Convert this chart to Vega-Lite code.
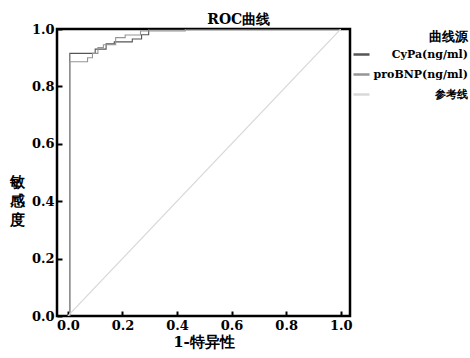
{
  "$schema": "https://vega.github.io/schema/vega-lite/v6.json",
  "autosize": "none",
  "width": 293,
  "height": 287,
  "padding": {"left": 57, "top": 29, "right": 120, "bottom": 42},
  "config": {
    "font": "DejaVu Serif",
    "view": {"stroke": "#000", "strokeWidth": 2.5},
    "axis": {"grid": false, "domain": false, "labelFont": "DejaVu Serif", "titleFont": "DejaVu Serif", "labelFontWeight": "bold", "titleFontWeight": "bold", "labelFontSize": 13, "titleFontSize": 15, "labelColor": "#000", "titleColor": "#000", "tickColor": "#000", "tickWidth": 2},
    "legend": {"labelFont": "DejaVu Serif", "titleFont": "DejaVu Serif"}
  },
  "title": {"text": "ROC曲线", "font": "DejaVu Serif", "fontSize": 14, "fontWeight": "bold", "color": "#000", "anchor": "middle", "frame": "bounds", "offset": -4},
  "data": {"values": [
    {"s": "CyPa(ng/ml)", "o": 1, "x": 0, "y": 0},
    {"s": "CyPa(ng/ml)", "o": 2, "x": 0.007, "y": 0},
    {"s": "CyPa(ng/ml)", "o": 3, "x": 0.007, "y": 0.915},
    {"s": "CyPa(ng/ml)", "o": 4, "x": 0.1, "y": 0.915},
    {"s": "CyPa(ng/ml)", "o": 5, "x": 0.1, "y": 0.93},
    {"s": "CyPa(ng/ml)", "o": 6, "x": 0.14, "y": 0.93},
    {"s": "CyPa(ng/ml)", "o": 7, "x": 0.14, "y": 0.948},
    {"s": "CyPa(ng/ml)", "o": 8, "x": 0.17, "y": 0.948},
    {"s": "CyPa(ng/ml)", "o": 9, "x": 0.17, "y": 0.955},
    {"s": "CyPa(ng/ml)", "o": 10, "x": 0.236, "y": 0.955},
    {"s": "CyPa(ng/ml)", "o": 11, "x": 0.236, "y": 0.965},
    {"s": "CyPa(ng/ml)", "o": 12, "x": 0.27, "y": 0.965},
    {"s": "CyPa(ng/ml)", "o": 13, "x": 0.27, "y": 0.98},
    {"s": "CyPa(ng/ml)", "o": 14, "x": 0.296, "y": 0.98},
    {"s": "CyPa(ng/ml)", "o": 15, "x": 0.296, "y": 1},
    {"s": "CyPa(ng/ml)", "o": 16, "x": 1, "y": 1},
    {"s": "proBNP(ng/ml)", "o": 1, "x": 0, "y": 0},
    {"s": "proBNP(ng/ml)", "o": 2, "x": 0.007, "y": 0},
    {"s": "proBNP(ng/ml)", "o": 3, "x": 0.007, "y": 0.886},
    {"s": "proBNP(ng/ml)", "o": 4, "x": 0.072, "y": 0.886},
    {"s": "proBNP(ng/ml)", "o": 5, "x": 0.072, "y": 0.9},
    {"s": "proBNP(ng/ml)", "o": 6, "x": 0.09, "y": 0.9},
    {"s": "proBNP(ng/ml)", "o": 7, "x": 0.09, "y": 0.915},
    {"s": "proBNP(ng/ml)", "o": 8, "x": 0.11, "y": 0.915},
    {"s": "proBNP(ng/ml)", "o": 9, "x": 0.11, "y": 0.935},
    {"s": "proBNP(ng/ml)", "o": 10, "x": 0.13, "y": 0.935},
    {"s": "proBNP(ng/ml)", "o": 11, "x": 0.13, "y": 0.945},
    {"s": "proBNP(ng/ml)", "o": 12, "x": 0.175, "y": 0.945},
    {"s": "proBNP(ng/ml)", "o": 13, "x": 0.175, "y": 0.97},
    {"s": "proBNP(ng/ml)", "o": 14, "x": 0.21, "y": 0.97},
    {"s": "proBNP(ng/ml)", "o": 15, "x": 0.21, "y": 0.979},
    {"s": "proBNP(ng/ml)", "o": 16, "x": 0.266, "y": 0.979},
    {"s": "proBNP(ng/ml)", "o": 17, "x": 0.266, "y": 0.993},
    {"s": "proBNP(ng/ml)", "o": 18, "x": 0.43, "y": 0.993},
    {"s": "proBNP(ng/ml)", "o": 19, "x": 0.43, "y": 1},
    {"s": "proBNP(ng/ml)", "o": 20, "x": 1, "y": 1},
    {"s": "参考线", "o": 1, "x": 0, "y": 0},
    {"s": "参考线", "o": 2, "x": 1, "y": 1}
  ]},
  "mark": {"type": "line", "strokeWidth": 1.1, "clip": true},
  "encoding": {
    "x": {"field": "x", "type": "quantitative", "scale": {"domain": [-0.04, 1.034], "nice": false, "zero": false},
      "axis": {"values": [0, 0.2, 0.4, 0.6, 0.8, 1.0], "format": ".1f", "tickSize": -5, "labelPadding": 8, "title": "1-特异性", "titlePadding": 2}},
    "y": {"field": "y", "type": "quantitative", "scale": {"domain": [0, 1], "nice": false},
      "axis": {"values": [0, 0.2, 0.4, 0.6, 0.8, 1.0], "format": ".1f", "tickSize": -5, "labelPadding": 8, "title": ["敏", "感", "度"], "titleAngle": 0, "titleAlign": "center", "titleBaseline": "top", "titleY": 145, "titleX": -40, "titleLineHeight": 19}},
    "color": {"field": "s", "type": "nominal",
      "scale": {"domain": ["CyPa(ng/ml)", "proBNP(ng/ml)", "参考线"], "range": ["#555555", "#959595", "#d8d8d8"]},
      "legend": {"title": "曲线源", "orient": "none", "legendX": 295, "legendY": 2, "titleAnchor": "end", "titleFontSize": 13, "titleFontWeight": "bold", "titleColor": "#000", "labelFontSize": 11, "labelFontWeight": "bold", "labelColor": "#000", "labelAlign": "right", "labelOffset": 97, "labelLimit": 200, "symbolType": "stroke", "symbolStrokeWidth": 2.5, "symbolSize": 256, "rowPadding": 5, "titlePadding": 1}},
    "order": {"field": "o", "type": "quantitative"}
  }
}
